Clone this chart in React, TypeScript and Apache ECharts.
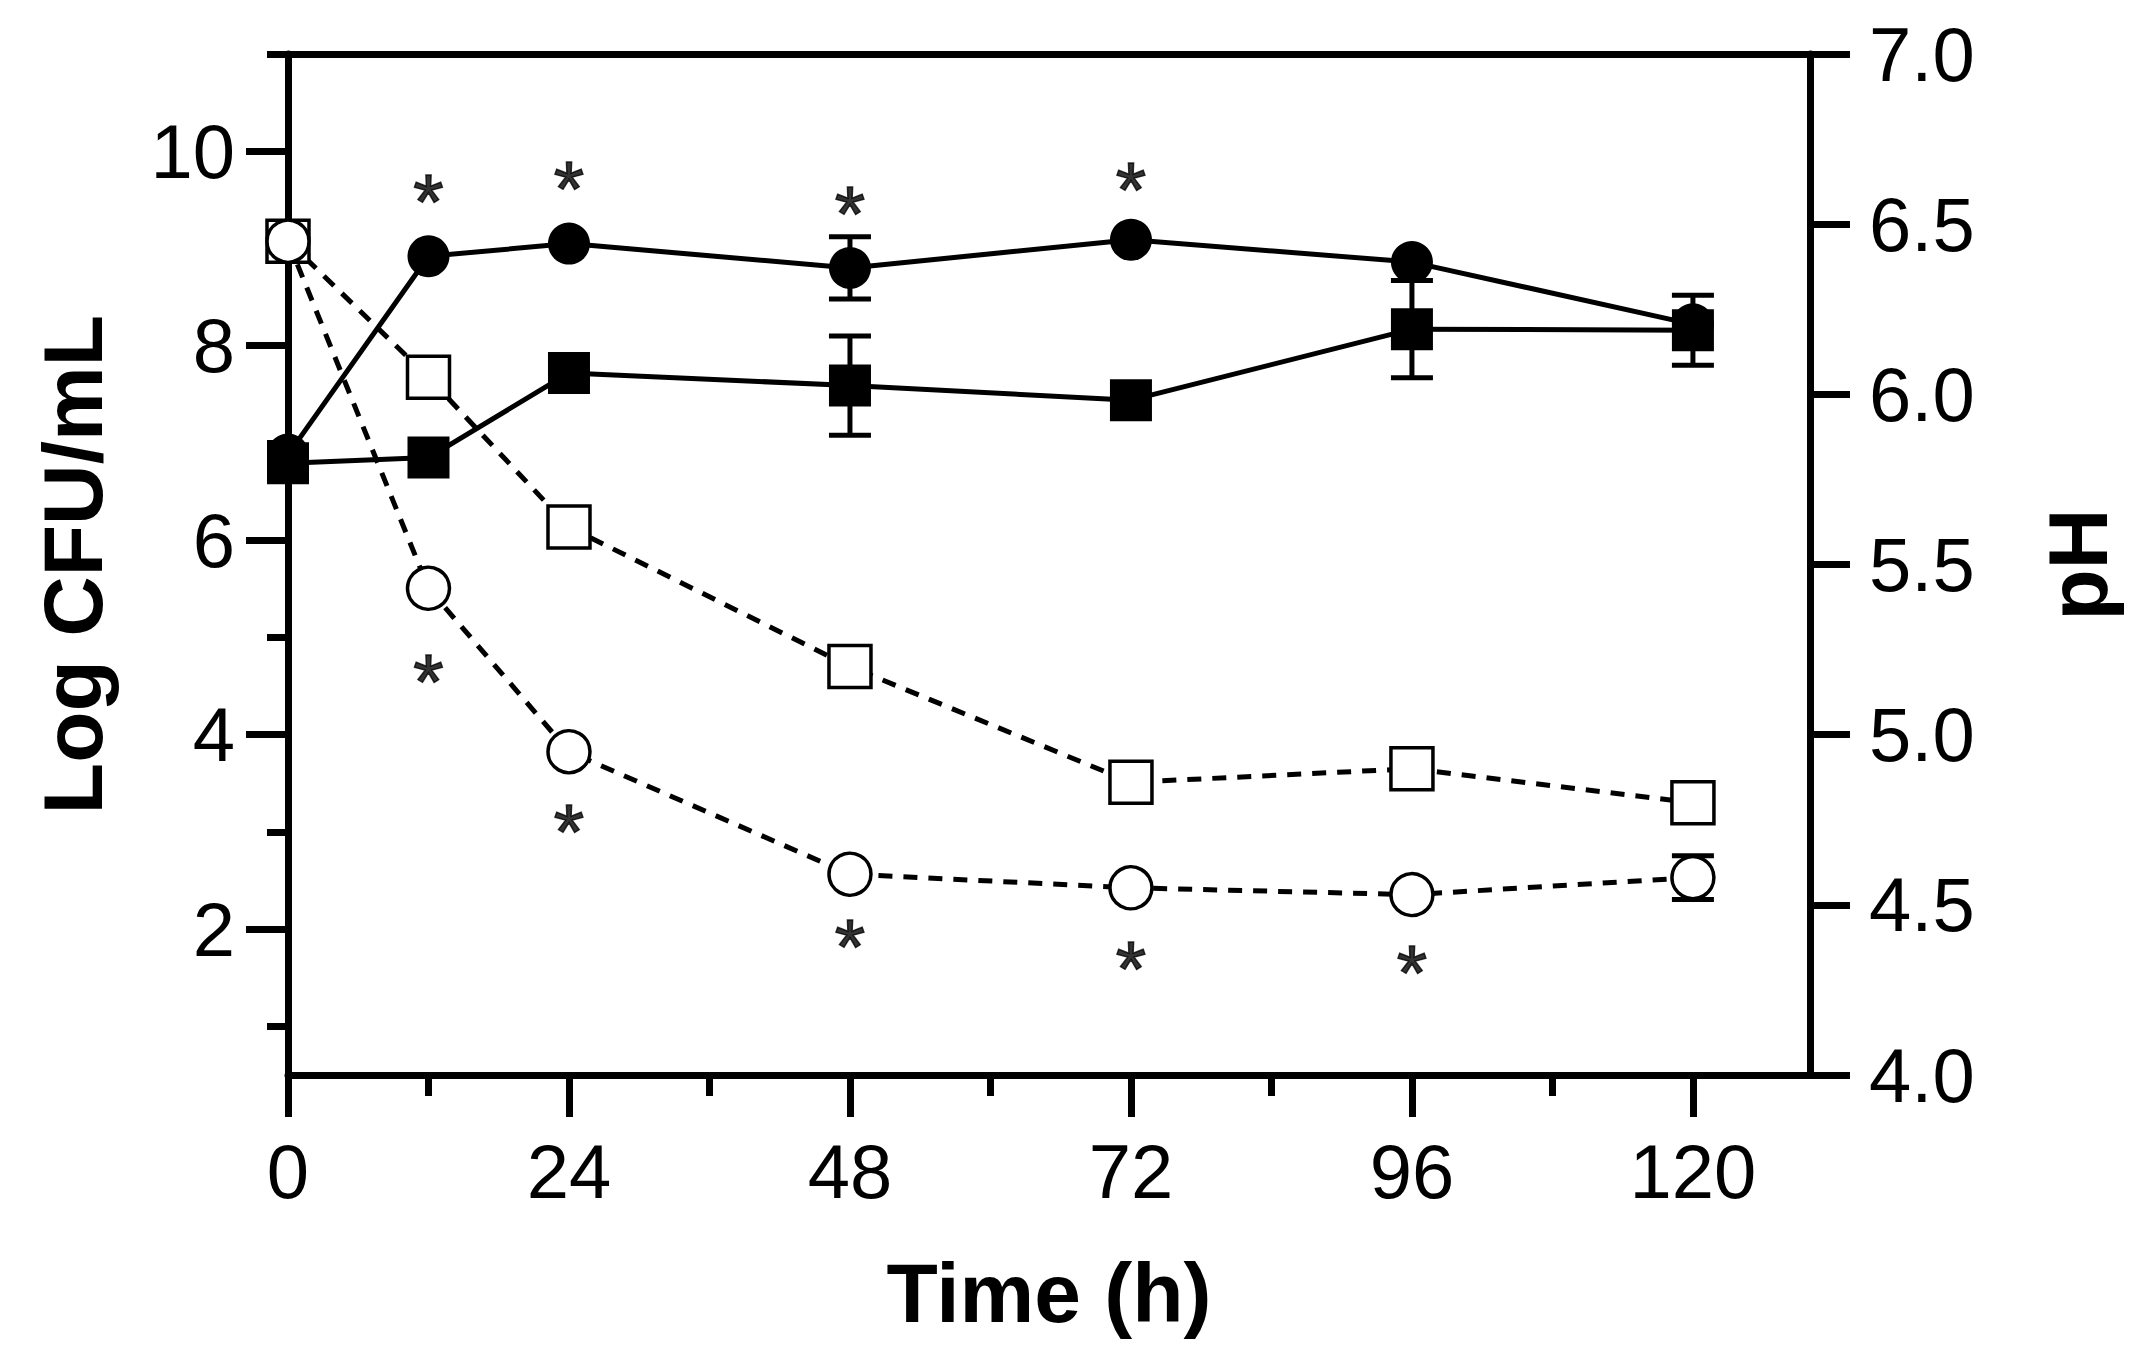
import { useEffect, useRef } from 'react'
import * as echarts from 'echarts'

// sampling times (h)
const HOURS = [0, 12, 24, 48, 72, 96, 120]

// Log CFU/mL (left axis)
const CFU_CIRCLE = [6.88, 8.92, 9.05, 8.8, 9.09, 8.86, 8.22]
const CFU_CIRCLE_ERR = [0, 0, 0, 0.32, 0, 0, 0]
const CFU_SQUARE = [6.79, 6.85, 7.72, 7.59, 7.44, 8.17, 8.16]
const CFU_SQUARE_ERR = [0, 0, 0, 0.51, 0, 0.5, 0.36]

// pH (right axis)
const PH_SQUARE = [6.45, 6.05, 5.61, 5.2, 4.86, 4.9, 4.8]
const PH_CIRCLE = [6.45, 5.43, 4.95, 4.59, 4.55, 4.53, 4.58]
const PH_CIRCLE_ERR = [0, 0, 0, 0, 0, 0, 0.064]

// significance marks, placed in Log CFU/mL units
const STAR_ABOVE_HOURS = [12, 24, 48, 72]
const STAR_ABOVE_Y = [9.58, 9.71, 9.46, 9.7]
const STAR_BELOW_HOURS = [12, 24, 48, 72, 96]
const STAR_BELOW_Y = [4.64, 3.1, 1.92, 1.69, 1.65]

// ticks
const X_MAJOR = [0, 24, 48, 72, 96, 120]
const X_MINOR = [12, 36, 60, 84, 108]
const Y_MAJOR = [2, 4, 6, 8, 10]
const Y_MINOR = [1, 3, 5, 7, 9, 11]

const FONT = "'Liberation Sans', Arial, Helvetica, sans-serif"
const INK = '#000000'

const zip = (ys: number[]) => HOURS.map((h, i) => [h, ys[i]])
const zipErr = (ys: number[], es: number[]) => HOURS.map((h, i) => [h, ys[i], es[i]])

const errorBars = (name: string, data: number[][], yAxisIndex: number): echarts.SeriesOption => ({
  name,
  type: 'custom',
  yAxisIndex,
  z: 1,
  silent: true,
  clip: false,
  encode: { x: 0, y: 1 },
  data,
  renderItem: (_params: any, api: any) => {
    const x = api.value(0)
    const y = api.value(1)
    const e = api.value(2)
    if (!e) return null
    const top = api.coord([x, y + e])
    const bot = api.coord([x, y - e])
    const hw = 21
    const style = { stroke: INK, lineWidth: 5 }
    return {
      type: 'group',
      children: [
        { type: 'line', shape: { x1: top[0], y1: top[1], x2: bot[0], y2: bot[1] }, style },
        { type: 'line', shape: { x1: top[0] - hw, y1: top[1], x2: top[0] + hw, y2: top[1] }, style },
        { type: 'line', shape: { x1: bot[0] - hw, y1: bot[1], x2: bot[0] + hw, y2: bot[1] }, style },
      ],
    }
  },
})

const lineSeries = (
  name: string,
  data: number[][],
  yAxisIndex: number,
  symbol: string,
  filled: boolean,
): echarts.SeriesOption => ({
  name,
  type: 'line',
  yAxisIndex,
  data,
  symbol,
  symbolSize: 42,
  clip: false,
  silent: true,
  emphasis: { disabled: true },
  lineStyle: {
    color: INK,
    width: 5,
    type: filled ? 'solid' : [14, 11],
  },
  itemStyle: filled
    ? { color: INK, borderWidth: 0 }
    : { color: '#ffffff', borderColor: INK, borderWidth: 3.5 },
})

const starSeries = (name: string, hours: number[], ys: number[]): echarts.SeriesOption => ({
  name,
  type: 'scatter',
  yAxisIndex: 0,
  symbol: 'circle',
  symbolSize: 1,
  silent: true,
  clip: false,
  itemStyle: { color: 'rgba(0,0,0,0)' },
  label: {
    show: true,
    position: 'inside',
    formatter: '*',
    color: INK,
    fontSize: 78,
    fontFamily: FONT,
    textBorderColor: INK,
    textBorderWidth: 1.5,
    offset: [0, 10],
  },
  data: hours.map((h, i) => [h, ys[i]]),
})

export default function App() {
  const chartRef = useRef<HTMLDivElement>(null)

  useEffect(() => {
    if (!chartRef.current) return

    const chart = echarts.init(chartRef.current, undefined, { renderer: 'svg' })

    const axisLine = { show: true, onZero: false, lineStyle: { color: INK, width: 7 } }
    const noLine = { show: false, onZero: false }
    const labelStyle = { color: INK, fontSize: 76, fontFamily: FONT }
    const nameStyle = { color: INK, fontSize: 84, fontWeight: 'bold' as const, fontFamily: FONT }

    const option: echarts.EChartsOption = {
      animation: false,
      backgroundColor: '#ffffff',
      tooltip: { show: false },
      grid: {
        left: 288,
        right: 332,
        top: 54,
        bottom: 284,
        outerBoundsMode: 'none',
      } as any,
      xAxis: [
        {
          type: 'value',
          position: 'bottom',
          min: 0,
          max: 130,
          axisLine,
          axisTick: {
            show: true,
            customValues: X_MAJOR,
            length: 42,
            lineStyle: { color: INK, width: 7 },
          },
          axisLabel: { ...labelStyle, customValues: X_MAJOR, margin: 58 },
          splitLine: { show: false },
          name: 'Time (h)',
          nameLocation: 'middle',
          nameGap: 176,
          nameTextStyle: nameStyle,
        } as any,
        {
          type: 'value',
          position: 'bottom',
          min: 0,
          max: 130,
          axisLine: noLine,
          axisTick: {
            show: true,
            customValues: X_MINOR,
            length: 21,
            lineStyle: { color: INK, width: 7 },
          },
          axisLabel: { show: false },
          splitLine: { show: false },
        } as any,
        {
          type: 'value',
          position: 'top',
          min: 0,
          max: 130,
          axisLine,
          axisTick: { show: false },
          axisLabel: { show: false },
          splitLine: { show: false },
        },
      ],
      yAxis: [
        {
          type: 'value',
          position: 'left',
          min: 0.5,
          max: 11,
          axisLine,
          axisTick: {
            show: true,
            customValues: Y_MAJOR,
            length: 42,
            lineStyle: { color: INK, width: 7 },
          },
          axisLabel: { ...labelStyle, customValues: Y_MAJOR, margin: 53 },
          splitLine: { show: false },
          name: 'Log CFU/mL',
          nameLocation: 'middle',
          nameRotate: 90,
          nameGap: 173,
          nameTextStyle: nameStyle,
        } as any,
        {
          type: 'value',
          position: 'right',
          min: 4,
          max: 7,
          interval: 0.5,
          axisLine,
          axisTick: {
            show: true,
            length: 40,
            lineStyle: { color: INK, width: 7 },
          },
          axisLabel: {
            ...labelStyle,
            margin: 59,
            formatter: (v: number) => v.toFixed(1),
          },
          splitLine: { show: false },
          name: 'pH',
          nameLocation: 'middle',
          nameRotate: 90,
          nameGap: 226,
          nameTextStyle: nameStyle,
        },
        {
          type: 'value',
          position: 'left',
          min: 0.5,
          max: 11,
          axisLine: noLine,
          axisTick: {
            show: true,
            customValues: Y_MINOR,
            length: 21,
            lineStyle: { color: INK, width: 7 },
          },
          axisLabel: { show: false },
          splitLine: { show: false },
        } as any,
      ],
      series: [
        errorBars('cfu circle err', zipErr(CFU_CIRCLE, CFU_CIRCLE_ERR), 0),
        errorBars('cfu square err', zipErr(CFU_SQUARE, CFU_SQUARE_ERR), 0),
        errorBars('ph circle err', zipErr(PH_CIRCLE, PH_CIRCLE_ERR), 1),
        lineSeries('Log CFU/mL (●)', zip(CFU_CIRCLE), 0, 'circle', true),
        lineSeries('Log CFU/mL (■)', zip(CFU_SQUARE), 0, 'rect', true),
        lineSeries('pH (□)', zip(PH_SQUARE), 1, 'rect', false),
        lineSeries('pH (○)', zip(PH_CIRCLE), 1, 'circle', false),
        starSeries('sig above', STAR_ABOVE_HOURS, STAR_ABOVE_Y),
        starSeries('sig below', STAR_BELOW_HOURS, STAR_BELOW_Y),
      ],
    }

    chart.setOption(option)

    return () => {
      chart.dispose()
    }
  }, [])

  return (
    <div
      ref={chartRef}
      style={{ position: 'absolute', left: 0, top: 0, width: '2142px', height: '1359px' }}
    />
  )
}
